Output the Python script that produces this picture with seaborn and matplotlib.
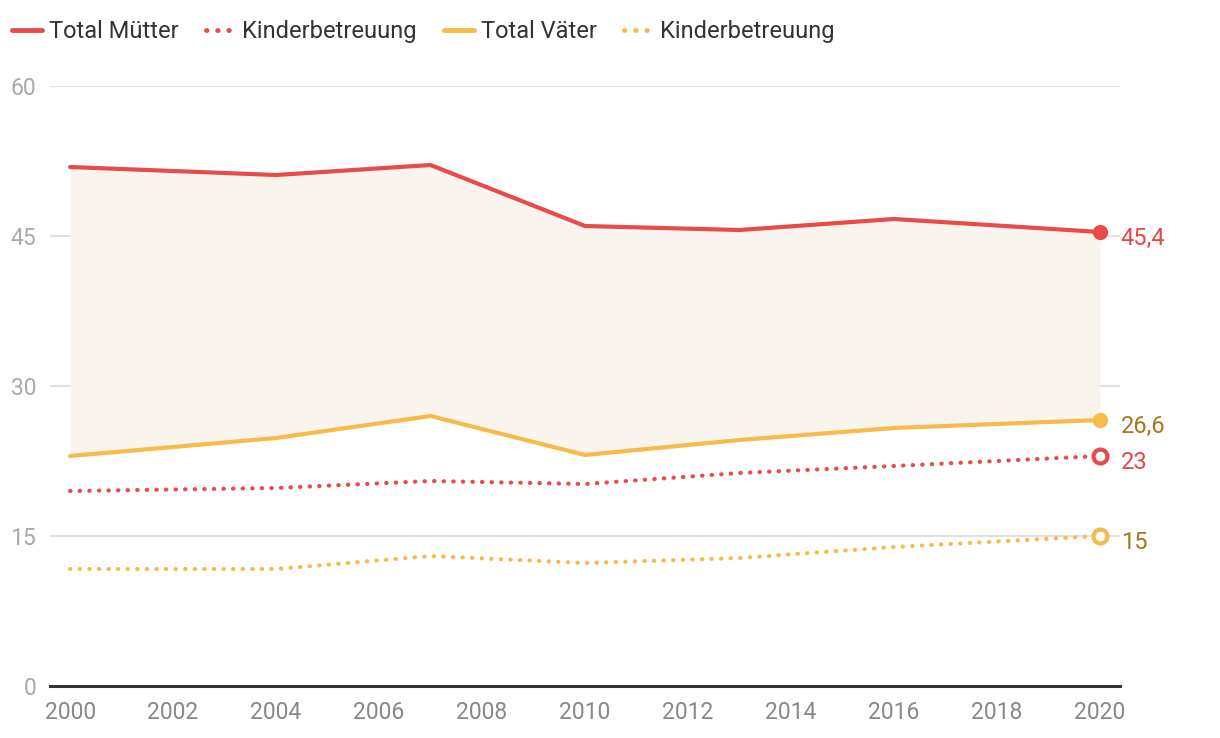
import pandas as pd
import numpy as np
import matplotlib
matplotlib.use("Agg")
import matplotlib.pyplot as plt
import seaborn as sns
from matplotlib.lines import Line2D

years = [2000, 2004, 2007, 2010, 2013, 2016, 2020]
total_muetter = [51.9, 51.1, 52.1, 46.0, 45.6, 46.7, 45.4]
kinder_muetter = [19.5, 19.8, 20.5, 20.2, 21.3, 22.0, 23.0]
total_vaeter = [23.0, 24.8, 27.0, 23.1, 24.6, 25.8, 26.6]
kinder_vaeter = [11.7, 11.7, 13.0, 12.3, 12.8, 13.9, 15.0]

legend_labels = ["Total Mütter", "Kinderbetreuung", "Total Väter", "Kinderbetreuung"]
end_labels = ["45,4", "23", "26,6", "15"]

RED = "#e94b4b"
YEL = "#f7bb4a"
FILL = "#f9f4ee"

sns.set_theme(style="white")
plt.rcParams["font.family"] = ["Roboto", "DejaVu Sans"]

fig = plt.figure(figsize=(12.2, 7.38), dpi=100)
ax = fig.add_axes([50 / 1220, 1 - 686 / 738, 1070 / 1220, 600 / 738])

df = pd.DataFrame({"year": years, "tm": total_muetter, "km": kinder_muetter,
                   "tv": total_vaeter, "kv": kinder_vaeter})

ax.fill_between(df["year"], df["tv"], df["tm"], color=FILL, lw=0, zorder=1)

dot = (0, (0.1, 2.2))
styles = [
    ("tm", RED, "-", True, "#e0484a"),
    ("km", RED, dot, False, "#e0484a"),
    ("tv", YEL, "-", True, "#a5771c"),
    ("kv", YEL, dot, False, "#a5771c"),
]
for (col, c, ls, filled, tc), lab in zip(styles, end_labels):
    sns.lineplot(data=df, x="year", y=col, ax=ax, color=c, lw=3,
                 linestyle=ls, zorder=3, legend=False)
    ax.lines[-1].set_dash_capstyle("round")
    ax.lines[-1].set_solid_capstyle("round")
    ax.plot(df["year"].iloc[-1], df[col].iloc[-1], "o", ms=11 if filled else 10,
            mfc=c if filled else "white", mec=c, mew=0 if filled else 3, zorder=4)
    ax.annotate(lab, (df["year"].iloc[-1], df[col].iloc[-1]), xytext=(15, -4.5),
                textcoords="offset points", color=tc, fontsize=17, va="center",
                ha="left", annotation_clip=False)

ax.set_xlim(1999.61, 2020.39)
ax.set_ylim(0, 60)
ax.set_yticks([0, 15, 30, 45, 60])
ax.set_xticks(range(2000, 2021, 2))
ax.grid(axis="y", color="#e3e1df", lw=1.5, zorder=0)
for s in ["top", "right", "left"]:
    ax.spines[s].set_visible(False)
ax.spines["bottom"].set_color("#333333")
ax.spines["bottom"].set_linewidth(2.2)
ax.tick_params(axis="y", length=0, pad=10, labelsize=16.5, labelcolor="#aaaaaa")
ax.tick_params(axis="x", length=0, pad=11, labelsize=16.5, labelcolor="#888888")
ax.set_xlabel("")
ax.set_ylabel("")

handles = [
    Line2D([], [], color=RED, lw=3.5, solid_capstyle="round"),
    Line2D([], [], color=RED, lw=3.5, linestyle=dot, dash_capstyle="round"),
    Line2D([], [], color=YEL, lw=3.5, solid_capstyle="round"),
    Line2D([], [], color=YEL, lw=3.5, linestyle=dot, dash_capstyle="round"),
]
fig.legend(handles, legend_labels,
           loc="upper left", bbox_to_anchor=(3 / 1220, 1 - 11 / 738), ncol=4, frameon=False,
           fontsize=17, handlelength=1.25, handletextpad=0.3, columnspacing=1.15,
           labelcolor="#333333", borderaxespad=0)

fig.savefig("out.png", dpi=100)
